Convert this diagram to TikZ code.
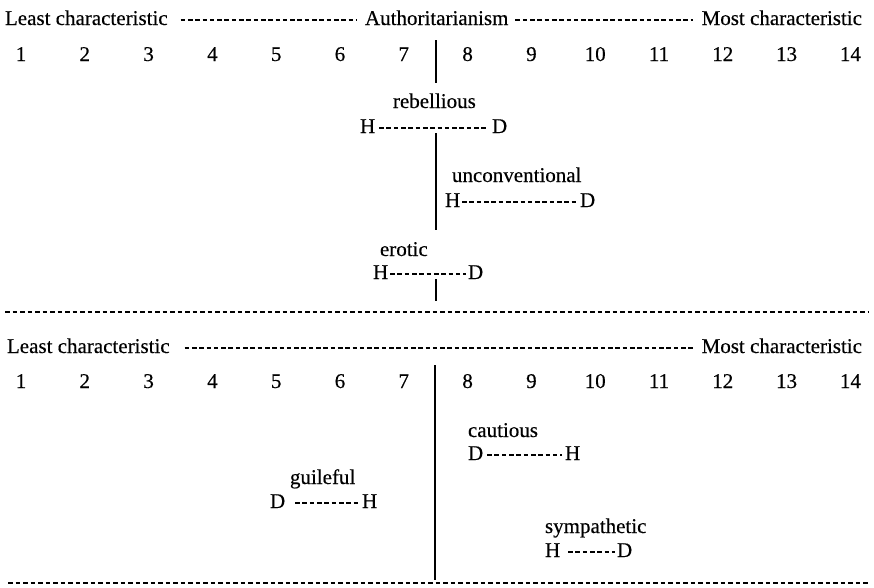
\documentclass[tikz,border=0pt]{standalone}
\usepackage{fontspec}
\setmainfont{Liberation Serif}[FakeBold=0.35]
\begin{document}
\begin{tikzpicture}[x=1pt,y=-1pt,
  every node/.style={font=\fontsize{21}{25}\selectfont, inner sep=0pt, outer sep=0pt},
  lbl/.style={anchor=base west},
  lble/.style={anchor=base east},
  num/.style={anchor=base},
  hy/.style={line width=1.3pt, dash pattern=on 4.6pt off 2.7pt},
  sep/.style={line width=1.3pt, dash pattern=on 4.6pt off 2.9pt},
  axis/.style={line width=1.2pt}]
\useasboundingbox (0,0) rectangle (874,587);

% ---------- upper panel ----------
\node[lbl]  (least1) at (5,25)   {Least characteristic};
\node[lbl]  (auth)   at (365,25) {Authoritarianism};
\node[lble] (most1)  at (862,25) {Most characteristic};
\draw[hy] ([xshift=13pt,yshift=5pt]least1.base east) -- ([xshift=-8pt,yshift=5pt]auth.base west);
\draw[hy] ([xshift=7pt,yshift=5pt]auth.base east) -- ([xshift=-9pt,yshift=5pt]most1.base west);

\foreach \i in {1,...,14} {
  \node[num] (ua\i) at ({21+(\i-1)*63.8},61) {\i};
}

\coordinate (v1a) at (436,40);
\coordinate (v1b) at (436,83);
\coordinate (v1c) at (436,133);
\coordinate (v1d) at (436,230);
\coordinate (v1e) at (436,279);
\coordinate (v1f) at (436,301);
\draw[axis] (v1a) -- (v1b);
\draw[axis] (v1c) -- (v1d);
\draw[axis] (v1e) -- (v1f);

\node[lbl] (reb)  at (393,108) {rebellious};
\node[lbl] (rebH) at (360,133) {H};
\node[lbl] (rebD) at (492,133) {D};
\draw[hy] ([xshift=4pt,yshift=5pt]rebH.base east) -- ([xshift=-5pt,yshift=5pt]rebD.base west);

\node[lbl] (unc)  at (452,182) {unconventional};
\node[lbl] (uncH) at (445,207) {H};
\node[lbl] (uncD) at (580,207) {D};
\draw[hy] ([xshift=2pt,yshift=5pt]uncH.base east) -- ([xshift=-3pt,yshift=5pt]uncD.base west);

\node[lbl] (ero)  at (380,256) {erotic};
\node[lbl] (eroH) at (373,279) {H};
\node[lbl] (eroD) at (468,279) {D};
\draw[hy] ([xshift=2pt,yshift=5pt]eroH.base east) -- ([xshift=-2pt,yshift=5pt]eroD.base west);

\coordinate (s1a) at (5,312);
\coordinate (s1b) at (869,312);
\draw[sep] (s1a) -- (s1b);

% ---------- lower panel ----------
\node[lbl]  (least2) at (7,353)   {Least characteristic};
\node[lble] (most2)  at (862,353) {Most characteristic};
\draw[hy] ([xshift=15pt,yshift=5pt]least2.base east) -- ([xshift=-8pt,yshift=5pt]most2.base west);

\foreach \i in {1,...,14} {
  \node[num] (la\i) at ({21+(\i-1)*63.8},388) {\i};
}

\coordinate (v2a) at (435,365);
\coordinate (v2b) at (435,580);
\draw[axis] (v2a) -- (v2b);

\node[lbl] (cau)  at (468,437) {cautious};
\node[lbl] (cauD) at (468,460) {D};
\node[lbl] (cauH) at (565,460) {H};
\draw[hy] ([xshift=4pt,yshift=5pt]cauD.base east) -- ([xshift=-3pt,yshift=5pt]cauH.base west);

\node[lbl] (gui)  at (290,484) {guileful};
\node[lbl] (guiD) at (270,508) {D};
\node[lbl] (guiH) at (362,508) {H};
\draw[hy] ([xshift=10pt,yshift=5pt]guiD.base east) -- ([xshift=-4pt,yshift=5pt]guiH.base west);

\node[lbl] (sym)  at (545,533) {sympathetic};
\node[lbl] (symH) at (545,557) {H};
\node[lbl] (symD) at (617,557) {D};
\draw[hy] ([xshift=8pt,yshift=5pt]symH.base east) -- ([xshift=-2pt,yshift=5pt]symD.base west);

\coordinate (s2a) at (8,583);
\coordinate (s2b) at (869,583);
\draw[sep] (s2a) -- (s2b);
\end{tikzpicture}
\end{document}
